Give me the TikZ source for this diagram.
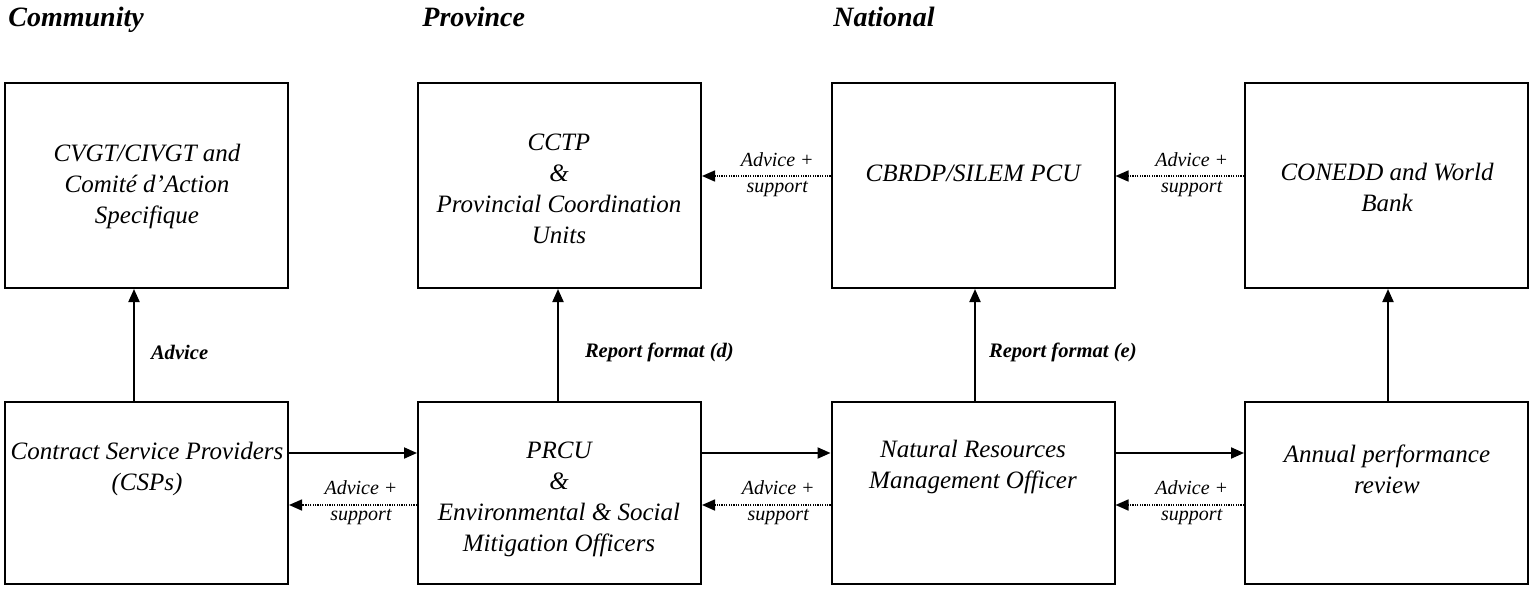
\documentclass[tikz,border=0pt]{standalone}
\usepackage{fontspec}
\setmainfont{Liberation Serif}
\usetikzlibrary{arrows.meta}
\begin{document}
\begin{tikzpicture}[x=0.5pt,y=-0.5pt,
  topbox/.style={draw, line width=1pt, minimum width=141.5pt, minimum height=102.5pt, inner sep=0pt},
  botbox/.style={draw, line width=1pt, minimum width=141.5pt, minimum height=91pt, inner sep=0pt},
  boxtxt/.style={align=center, inner sep=0pt, font=\itshape\fontsize{12.5}{15.5}\selectfont},
  head/.style={anchor=base west, inner sep=0pt, font=\bfseries\itshape\fontsize{14}{16}\selectfont},
  flowlbl/.style={anchor=west, inner sep=0pt, font=\bfseries\itshape\fontsize{10.3}{12}\selectfont},
  smalllbl/.style={inner sep=0pt, font=\itshape\fontsize{10}{11}\selectfont},
  solidarr/.style={-{Triangle[length=6.5pt,width=5.5pt]}, line width=1pt},
  dotarr/.style={-{Triangle[length=6.5pt,width=5.5pt]}, line width=0.8pt, dash pattern=on 0.6pt off 0.6pt},
]
\useasboundingbox (0,0) rectangle (1530,589);

% headings
\node[head] (hC) at (8,26) {Community};
\node[head] (hP) at (422,26) {Province};
\node[head] (hN) at (833,26) {National};

% top boxes
\node[topbox] (tA) at (146.5,185.5) {};
\node[topbox] (tB) at (559.5,185.5) {};
\node[topbox] (tC) at (973,185.5) {};
\node[topbox] (tD) at (1386.5,185.5) {};
% bottom boxes
\node[botbox] (bA) at (146.5,493) {};
\node[botbox] (bB) at (559.5,493) {};
\node[botbox] (bC) at (973,493) {};
\node[botbox] (bD) at (1386.5,493) {};

% box texts
\node[boxtxt] (xtA) at (147,186) {CVGT/CIVGT and\\Comité d'Action\\Specifique};
\node[boxtxt] (xtB) at (559,189) {CCTP\\\&\\Provincial Coordination\\Units};
\node[boxtxt] (xtC) at (973,173) {CBRDP/SILEM PCU};
\node[boxtxt] (xtD) at (1387,187) {CONEDD and World\\Bank};
\node[boxtxt] (xbA) at (147,469) {Contract Service Providers\\(CSPs)};
\node[boxtxt] (xbB) at (559,499) {PRCU\\\&\\Environmental \& Social\\Mitigation Officers};
\node[boxtxt] (xbC) at (973,467) {Natural Resources\\Management Officer};
\node[boxtxt] (xbD) at (1387,469) {Annual performance\\review};

% vertical arrows
\draw[solidarr] ([xshift=-6.25pt]bA.north) -- node[flowlbl, pos=0.43, xshift=8pt] {Advice} ([xshift=-6.25pt]tA.south);
\draw[solidarr] ([xshift=-0.75pt]bB.north) -- node[flowlbl, pos=0.43, xshift=13pt] {Report format (d)} ([xshift=-0.75pt]tB.south);
\draw[solidarr] ([xshift=1pt]bC.north) -- node[flowlbl, pos=0.43, xshift=6.5pt] {Report format (e)} ([xshift=1pt]tC.south);
\draw[solidarr] ([xshift=0.75pt]bD.north) -- ([xshift=0.75pt]tD.south);

% bottom solid arrows
\draw[solidarr] ([yshift=20pt]bA.east) -- ([yshift=20pt]bB.west);
\draw[solidarr] ([yshift=20pt]bB.east) -- ([yshift=20pt]bC.west);
\draw[solidarr] ([yshift=20pt]bC.east) -- ([yshift=20pt]bD.west);

% bottom dotted arrows
\draw[dotarr] ([yshift=-6pt]bB.west) -- node[smalllbl, xshift=4pt, yshift=8.5pt] {Advice +} node[smalllbl, xshift=4pt, yshift=-6pt] {support} ([yshift=-6pt]bA.east);
\draw[dotarr] ([yshift=-6pt]bC.west) -- node[smalllbl, xshift=6pt, yshift=8.5pt] {Advice +} node[smalllbl, xshift=6pt, yshift=-6pt] {support} ([yshift=-6pt]bB.east);
\draw[dotarr] ([yshift=-6pt]bD.west) -- node[smalllbl, xshift=6pt, yshift=8.5pt] {Advice +} node[smalllbl, xshift=6pt, yshift=-6pt] {support} ([yshift=-6pt]bC.east);

% top dotted arrows
\draw[dotarr] ([yshift=4.75pt]tC.west) -- node[smalllbl, xshift=5.5pt, yshift=8pt] {Advice +} node[smalllbl, xshift=5.5pt, yshift=-6.5pt] {support} ([yshift=4.75pt]tB.east);
\draw[dotarr] ([yshift=4.75pt]tD.west) -- node[smalllbl, xshift=6pt, yshift=8pt] {Advice +} node[smalllbl, xshift=6pt, yshift=-6.5pt] {support} ([yshift=4.75pt]tC.east);
\end{tikzpicture}
\end{document}
